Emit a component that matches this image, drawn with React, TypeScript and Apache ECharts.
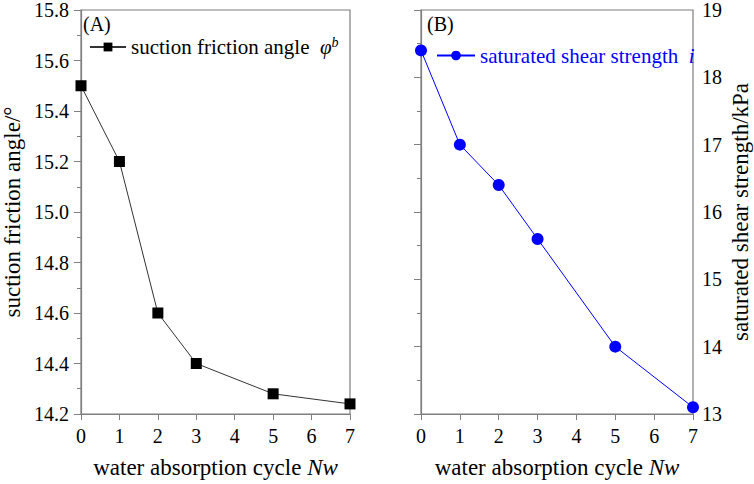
import React, { useEffect, useRef } from "react";
import * as echarts from "echarts";

const cyclesA = [0, 1, 2, 3, 5, 7];
const frictionAngle = [15.5, 15.2, 14.6, 14.4, 14.28, 14.24];
const cyclesB = [0, 1, 2, 3, 5, 7];
const shearStrength = [18.4, 17.0, 16.4, 15.6, 14.0, 13.1];

const FONT = "'Liberation Serif', 'Times New Roman', serif";
const AXIS_COLOR = "#7f7f7f";
const PAGE_CSS =
  "html,body{margin:0;padding:0;overflow:hidden;background:#fff}" +
  "#chart-root svg text{font-family:'Liberation Serif','Times New Roman',serif !important}";

export default function App() {
  const ref = useRef<HTMLDivElement>(null);
  useEffect(() => {
    if (!ref.current) return;
    const chart = echarts.init(ref.current, undefined, { renderer: "svg" });
    const xAxisCommon = (gridIndex: number) => ({
      type: "value" as const,
      gridIndex,
      min: 0,
      max: 7,
      interval: 1,
      name: "{n|water absorption cycle }{i|Nw}",
      nameLocation: "middle" as const,
      nameGap: 42,
      nameTextStyle: {
        fontFamily: FONT,
        rich: {
          n: { fontFamily: FONT, fontSize: 23, color: "#000" },
          i: { fontFamily: FONT, fontSize: 23, color: "#000", fontStyle: "italic" },
        },
      },
      axisLine: { show: true, lineStyle: { color: AXIS_COLOR, width: 1.2 } },
      axisTick: { show: true, length: 6, lineStyle: { color: AXIS_COLOR } },
      axisLabel: { fontFamily: FONT, fontSize: 20, color: "#000", margin: 12 },
      splitLine: { show: false },
    });
    chart.setOption({
      animation: false,
      textStyle: { fontFamily: FONT },
      grid: [
        { left: 79, right: 404, top: 9, bottom: 62, show: true, borderColor: AXIS_COLOR, borderWidth: 1.2 },
        { left: 421, right: 61, top: 9, bottom: 62, show: true, borderColor: AXIS_COLOR, borderWidth: 1.2 },
      ],
      xAxis: [xAxisCommon(0), xAxisCommon(1)],
      yAxis: [
        {
          type: "value",
          gridIndex: 0,
          min: 14.2,
          max: 15.8,
          interval: 0.2,
          name: "suction friction angle/°",
          nameLocation: "middle",
          nameGap: 57,
          nameTextStyle: { fontFamily: FONT, fontSize: 23, color: "#000" },
          axisLine: { show: true, lineStyle: { color: AXIS_COLOR, width: 1.2 } },
          axisTick: { show: true, length: 7, lineStyle: { color: AXIS_COLOR } },
          minorTick: { show: true, splitNumber: 2, length: 4, lineStyle: { color: AXIS_COLOR } },
          axisLabel: {
            fontFamily: FONT,
            fontSize: 20,
            color: "#000",
            margin: 12,
            formatter: (v: number) => v.toFixed(1),
          },
          splitLine: { show: false },
        },
        {
          type: "value",
          gridIndex: 1,
          position: "right",
          min: 13,
          max: 19,
          interval: 1,
          name: "saturated shear strength/kPa",
          nameLocation: "middle",
          nameGap: 36,
          nameRotate: 90,
          nameTextStyle: { fontFamily: FONT, fontSize: 23, color: "#000" },
          axisLine: { show: true, lineStyle: { color: AXIS_COLOR, width: 1.2 } },
          axisTick: { show: true, inside: true, length: 7, lineStyle: { color: AXIS_COLOR } },
          minorTick: { show: true, splitNumber: 2, length: 4, lineStyle: { color: AXIS_COLOR } },
          axisLabel: { fontFamily: FONT, fontSize: 20, color: "#000", margin: 9 },
          splitLine: { show: false },
        },
      ],
      legend: [
        {
          data: ["suction friction angle"],
          left: 84,
          top: 30,
          itemWidth: 36,
          itemHeight: 11,
          itemGap: 10,
          formatter: () => "{n|suction friction angle  }{i|φ}{s|b}",
          textStyle: {
            fontFamily: FONT,
            rich: {
              n: { fontFamily: FONT, fontSize: 21, color: "#000" },
              i: { fontFamily: FONT, fontSize: 21, color: "#000", fontStyle: "italic" },
              s: { fontFamily: FONT, fontSize: 14, color: "#000", fontStyle: "italic", verticalAlign: "top", padding: [0, 0, 10, 0] },
            },
          },
        },
        {
          data: ["saturated shear strength"],
          left: 431,
          top: 40,
          itemWidth: 38,
          itemHeight: 12,
          itemGap: 10,
          formatter: () => "{n|saturated shear strength  }{i|i}",
          textStyle: {
            fontFamily: FONT,
            rich: {
              n: { fontFamily: FONT, fontSize: 21, color: "#0000ff" },
              i: { fontFamily: FONT, fontSize: 21, color: "#0000ff", fontStyle: "italic" },
            },
          },
        },
      ],
      graphic: [
        { type: "text", left: 83, top: 14, style: { text: "(A)", fontFamily: FONT, fontSize: 20, fill: "#000" } },
        { type: "text", left: 427, top: 14, style: { text: "(B)", fontFamily: FONT, fontSize: 20, fill: "#000" } },
      ],
      series: [
        {
          name: "suction friction angle",
          type: "line",
          xAxisIndex: 0,
          yAxisIndex: 0,
          data: cyclesA.map((x, i) => [x, frictionAngle[i]]),
          symbol: "rect",
          symbolSize: 11,
          itemStyle: { color: "#000" },
          lineStyle: { color: "#333", width: 1 },
          clip: false,
        },
        {
          name: "saturated shear strength",
          type: "line",
          xAxisIndex: 1,
          yAxisIndex: 1,
          data: cyclesB.map((x, i) => [x, shearStrength[i]]),
          symbol: "circle",
          symbolSize: 12,
          itemStyle: { color: "#0000ff" },
          lineStyle: { color: "#0000ff", width: 1 },
          clip: false,
        },
      ],
    });
    return () => chart.dispose();
  }, []);
  return (
    <div>
      <style>{PAGE_CSS}</style>
      <div
        id="chart-root"
        ref={ref}
        style={{ width: 754, height: 484, position: "absolute", left: 0, top: 0, background: "#fff" }}
      />
    </div>
  );
}
